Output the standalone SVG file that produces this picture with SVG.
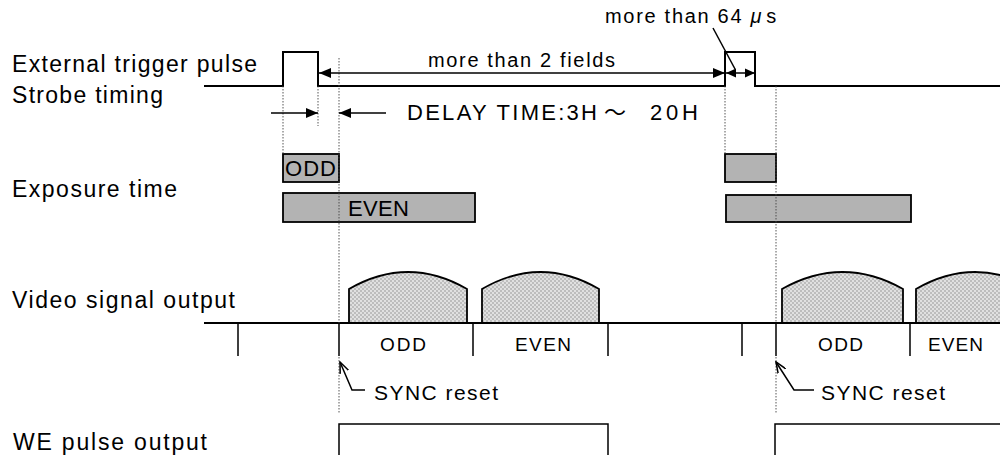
<svg xmlns="http://www.w3.org/2000/svg" width="1000" height="455" viewBox="0 0 1000 455">
<style>
.lbl{font-family:"Liberation Sans",Arial,sans-serif;font-size:23px;fill:#000}
.tx{font-family:"Liberation Sans",Arial,sans-serif;fill:#000}
.f19{font-size:19px}
.f20{font-size:20px}
.f21{font-size:21px}
.f22{font-size:22px}
.sig{fill:none;stroke:#000;stroke-width:2}
.ln{fill:none;stroke:#000;stroke-width:1.5}
.dot{fill:none;stroke:#444;stroke-width:0.9;stroke-dasharray:1.5 1.5}
.box{fill:#b3b3b3;stroke:#000;stroke-width:1.8}
.bump{fill:url(#dots);stroke:#000;stroke-width:1.8}
</style>
<defs>
<pattern id="dots" width="4" height="4" patternUnits="userSpaceOnUse">
<rect width="4" height="4" fill="#bdbdbd"/>
<circle cx="1" cy="1" r="0.9" fill="#f2f2f2"/>
<circle cx="3" cy="3" r="0.9" fill="#f2f2f2"/>
</pattern>
<marker id="ah" markerUnits="userSpaceOnUse" markerWidth="12" markerHeight="10" refX="12" refY="5" orient="auto-start-reverse">
<path d="M0,0 L12,5 L0,10 z" fill="#000"/>
</marker>
<marker id="ahs" markerUnits="userSpaceOnUse" markerWidth="10" markerHeight="10" refX="10" refY="5" orient="auto-start-reverse">
<path d="M0,0.5 L10,5 L0,9.5 z" fill="#000"/>
</marker>
<marker id="open" markerUnits="userSpaceOnUse" markerWidth="12" markerHeight="10" refX="11" refY="5" orient="auto-start-reverse">
<path d="M0,0.5 L11,5 L0,9.5" fill="none" stroke="#000" stroke-width="1.5"/>
</marker>
</defs>

<g id="labels">
<text class="lbl" x="12" y="72" textLength="245" lengthAdjust="spacing">External trigger pulse</text>
<text class="lbl" x="12" y="103" textLength="151" lengthAdjust="spacing">Strobe timing</text>
<text class="lbl" x="12" y="197" textLength="165" lengthAdjust="spacing">Exposure time</text>
<text class="lbl" x="12" y="308" textLength="223" lengthAdjust="spacing">Video signal output</text>
<text class="lbl" x="13" y="450" textLength="194" lengthAdjust="spacing">WE pulse output</text>
</g>

<g id="trigger">
<path class="sig" d="M204,86 H283 V52 H318 V86 H725 V52 H755 V86 H1000"/>
</g>

<g id="exposure">
<g id="exp-odd-1"><rect class="box" x="283" y="154" width="56" height="28"/><text class="tx f22" x="285" y="176" textLength="51" lengthAdjust="spacing">ODD</text></g>
<g id="exp-even-1"><rect class="box" x="283" y="193" width="192" height="29"/><text class="tx f22" x="348" y="216" textLength="61" lengthAdjust="spacing">EVEN</text></g>
<g id="exp-odd-2"><rect class="box" x="725" y="154" width="51" height="28"/></g>
<g id="exp-even-2"><rect class="box" x="726" y="195" width="185" height="27"/></g>
</g>

<g id="video">
<path class="bump" d="M349,323 V289 Q408,255 467,289 V323"/>
<path class="bump" d="M482,323 V289 Q540.5,255 599,289 V323"/>
<path class="bump" d="M782,323 V289 Q842.5,255 903,289 V323"/>
<path class="bump" d="M916,323 V289 Q975,255 1034,289 V323"/>
<path class="sig" d="M204,323 H1000"/>
<path class="ln" d="M238,323 V356 M339,323 V356 M473,323 V356 M608,323 V356 M742,323 V356 M776,323 V356 M910,323 V356"/>
<text class="tx f19" x="380" y="351" textLength="46" lengthAdjust="spacing">ODD</text>
<text class="tx f19" x="515" y="351" textLength="56" lengthAdjust="spacing">EVEN</text>
<text class="tx f19" x="818" y="351" textLength="45" lengthAdjust="spacing">ODD</text>
<text class="tx f19" x="928" y="351" textLength="55" lengthAdjust="spacing">EVEN</text>
</g>

<g id="we">
<path class="ln" d="M339,455 V424 H608 V455"/>
<path class="ln" d="M775,455 V424 H1000"/>
</g>

<g id="connectors">
<path class="dot" d="M283,86 V154"/>
<path class="dot" d="M318,86 V126"/>
<path class="dot" d="M339,58 V323 M339,357 V413"/>
<path class="dot" d="M725,86 V154"/>
<path class="dot" d="M776,86 V323 M776,357 V413"/>
<line class="ln" x1="271" y1="113" x2="318" y2="113" marker-end="url(#ah)"/>
<line class="ln" x1="386" y1="113" x2="339" y2="113" marker-end="url(#ah)"/>
<line class="ln" x1="319" y1="73" x2="725" y2="73" marker-start="url(#ah)" marker-end="url(#ah)"/>
<line class="ln" x1="726" y1="73" x2="755" y2="73" marker-start="url(#ahs)" marker-end="url(#ahs)"/>
<line class="ln" x1="713" y1="28" x2="735" y2="69"/>
<polyline class="ln" points="340,362 352,390 365,390" marker-start="url(#open)"/>
<polyline class="ln" points="776,362 794,390 814,390" marker-start="url(#open)"/>
</g>

<g id="annotations">
<text class="tx f20" x="428" y="67" textLength="187" lengthAdjust="spacing">more than 2 fields</text>
<text class="tx f20" x="605" y="23" style="letter-spacing:1.7px">more than 64 <tspan font-style="italic">μ</tspan><tspan dx="3">s</tspan></text>
<text class="tx f22" x="407" y="120"><tspan textLength="190" lengthAdjust="spacing">DELAY TIME:3H</tspan> <tspan x="604" style="font-family:'Noto Sans CJK JP',sans-serif">～</tspan> <tspan x="650" textLength="48" lengthAdjust="spacing">20H</tspan></text>
<text class="tx f21" x="374" y="400" textLength="124" lengthAdjust="spacing">SYNC reset</text>
<text class="tx f21" x="821" y="400" textLength="124" lengthAdjust="spacing">SYNC reset</text>
</g>
</svg>
